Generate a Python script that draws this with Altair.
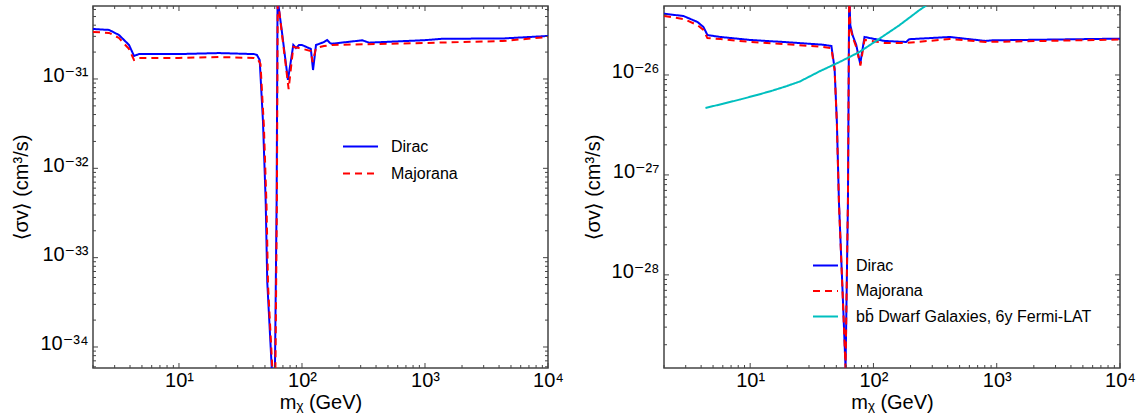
import math
import altair as alt
import pandas as pd

# ---------------- data ----------------
# Left panel
ld_x = [2.0, 2.7, 3.25, 3.92, 4.05, 4.31, 4.73, 10, 21.1, 40.7, 43.0, 45.3, 48.2, 50.7, 52.2, 56.8, 58.5, 60.3,
        62.2, 63.3, 68.7, 76.9, 85.0, 89.3, 94.6, 100, 118, 123, 130, 151, 160, 169, 175, 309, 351, 1000, 1384,
        4270, 10000]
ld_y = [3.63e-31, 3.54e-31, 3.11e-31, 2.41e-31, 2.19e-31, 1.81e-31, 1.90e-31, 1.90e-31, 1.95e-31, 1.90e-31,
        1.86e-31, 1.63e-31, 3.3e-32, 4.2e-33, 5.37e-34, 5.8e-35, 1e-35, 5.8e-35, 4.2e-33, 8e-31, 3.36e-31,
        9.75e-32, 2.40e-31, 2.22e-31, 2.40e-31, 2.40e-31, 2.17e-31, 1.26e-31, 2.40e-31, 2.59e-31, 2.73e-31,
        2.53e-31, 2.48e-31, 2.71e-31, 2.55e-31, 2.72e-31, 2.82e-31, 2.84e-31, 3.03e-31]

lm_x = [2.0, 2.7, 3.25, 3.92, 4.31, 4.73, 10, 21.1, 40.7, 43.5, 46.0, 49.0, 51.5, 53.0, 57.5, 59.0, 60.8, 62.5,
        63.5, 68.7, 77.9, 85.0, 94.6, 118, 122, 130, 151, 175, 1000, 4270, 10000]
lm_y = [3.36e-31, 3.28e-31, 2.88e-31, 2.17e-31, 1.63e-31, 1.72e-31, 1.72e-31, 1.76e-31, 1.72e-31, 1.68e-31,
        1.47e-31, 3.0e-32, 3.8e-33, 4.8e-34, 5.5e-35, 1e-35, 5.5e-35, 4.0e-33, 8e-31, 3.19e-31, 7.72e-32,
        2.28e-31, 2.22e-31, 2.06e-31, 1.55e-31, 2.22e-31, 2.34e-31, 2.40e-31, 2.53e-31, 2.66e-31, 2.95e-31]

# Right panel
rd_x = [2.0, 2.88, 3.74, 4.18, 4.50, 5.73, 10, 18.5, 38.8, 45.6, 48.4, 50.5, 52.5, 56.2, 59.4, 62.1, 63.6,
        64.9, 67.7, 72.5, 78.1, 84.6, 123, 184, 195, 416, 811, 912, 10000]
rd_y = [4.10e-26, 3.89e-26, 3.39e-26, 3.02e-26, 2.51e-26, 2.40e-26, 2.24e-26, 2.14e-26, 2.01e-26, 1.95e-26,
        1.16e-26, 3.39e-27, 5.37e-28, 6.8e-29, 1.17e-29, 5.37e-28, 7e-26, 3.16e-26, 2.51e-26, 2.0e-26,
        1.29e-26, 2.40e-26, 2.19e-26, 2.14e-26, 2.28e-26, 2.40e-26, 2.19e-26, 2.22e-26, 2.31e-26]

rm_x = [2.0, 2.88, 3.74, 4.18, 4.50, 5.73, 10, 18.5, 38.8, 45.6, 48.4, 50.5, 52.5, 56.2, 59.4, 62.1, 63.6,
        64.9, 67.7, 72.5, 78.4, 84.6, 123, 184, 416, 811, 10000]
rm_y = [3.89e-26, 3.63e-26, 3.16e-26, 2.82e-26, 2.34e-26, 2.29e-26, 2.14e-26, 2.04e-26, 1.91e-26, 1.86e-26,
        1.12e-26, 3.3e-27, 5.2e-28, 6.6e-29, 1.17e-29, 5.5e-28, 7e-26, 3.02e-26, 2.40e-26, 1.91e-26,
        1.24e-26, 2.24e-26, 2.09e-26, 2.09e-26, 2.29e-26, 2.14e-26, 2.26e-26]

fermi_x = [4.34, 5.94, 8.30, 11.4, 15.3, 19.9, 25.3, 36.7, 53.2, 77.1, 112, 162, 235, 310]
fermi_y = [4.68e-27, 5.13e-27, 5.69e-27, 6.31e-27, 7.0e-27, 7.76e-27, 8.61e-27, 1.09e-26, 1.35e-26,
           1.70e-26, 2.31e-26, 3.14e-26, 4.44e-26, 5.6e-26]

series_left = ["Dirac", "Majorana"]
series_right = ["Dirac", "Majorana", "b\u0062\u0304 Dwarf Galaxies, 6y Fermi-LAT"]

x_ticks = [10, 100, 1000, 10000]
x_labels = ["10¹", "10²", "10³", "10⁴"]
left_y_ticks = [1e-34, 1e-33, 1e-32, 1e-31]
left_y_labels = ["10⁻³⁴", "10⁻³³", "10⁻³²", "10⁻³¹"]
right_y_ticks = [1e-28, 1e-27, 1e-26]
right_y_labels = ["10⁻²⁸", "10⁻²⁷", "10⁻²⁶"]

x_domain = [2, 10000]
left_y_domain = [5.82e-35, 6.56e-31]
right_y_domain = [1.17e-29, 4.9e-26]

W1, W2, H = 455, 456, 362
FONT = "Liberation Sans, Arial, Helvetica, DejaVu Sans, sans-serif"


def label_expr(vals, labels):
    expr = "''"
    for v, l in zip(vals, labels):
        expr = f"abs(log(datum.value)/LN10 - ({math.log10(v):.3f})) < 0.05 ? '{l}' : ({expr})"
    return expr


def minor_ticks(lo, hi):
    out = []
    for d in range(math.floor(math.log10(lo)) - 1, math.ceil(math.log10(hi)) + 1):
        for k in range(2, 10):
            v = k * 10.0 ** d
            if lo <= v <= hi:
                out.append(v)
    return out


def major_ticks(lo, hi):
    out = []
    for d in range(math.floor(math.log10(lo)) - 1, math.ceil(math.log10(hi)) + 1):
        v = 10.0 ** d
        if lo * 0.999 <= v <= hi * 1.001:
            out.append(v)
    return out


def panel(frames, series, colors, dashes, ydom, yticks, ylabels, width, leg):
    df = pd.concat(frames, ignore_index=True)
    xs = alt.Scale(type="log", domain=x_domain, nice=False)
    ys = alt.Scale(type="log", domain=ydom, nice=False)
    xax = alt.Axis(values=x_ticks, labelExpr=label_expr(x_ticks, x_labels), title="mᵪ (GeV)",
                   ticks=False, domain=False, grid=False, labelFlush=False, labelPadding=2,
                   titlePadding=2)
    yax = alt.Axis(values=yticks, labelExpr=label_expr(yticks, ylabels), title="⟨σv⟩ (cm³/s)",
                   ticks=False, domain=False, grid=False, labelPadding=5, titlePadding=8,
                   labelFlush=False, labelOffset=-3)
    X = alt.X("m:Q", scale=xs, axis=xax)
    Y = alt.Y("sv:Q", scale=ys, axis=yax)
    legend = alt.Legend(orient="none", legendX=leg["x"], legendY=leg["y"], title=None,
                        symbolType="stroke", symbolSize=leg["size"], symbolStrokeWidth=2,
                        labelFont=FONT, labelFontSize=16, labelOffset=leg["offset"],
                        rowPadding=leg["rowpad"], padding=0, labelColor="black", labelLimit=400)
    lines = alt.Chart(df).mark_line(clip=True, strokeWidth=2).encode(
        x=X, y=Y,
        color=alt.Color("series:N", scale=alt.Scale(domain=series, range=colors), legend=legend),
        strokeDash=alt.StrokeDash("series:N", scale=alt.Scale(domain=series, range=dashes), legend=legend),
        detail="series:N",
    )
    xmaj = pd.DataFrame({"m": major_ticks(*x_domain)})
    xmin = pd.DataFrame({"m": minor_ticks(*x_domain)})
    ymaj = pd.DataFrame({"sv": major_ticks(*ydom)})
    ymin = pd.DataFrame({"sv": minor_ticks(*ydom)})
    tick_color = "#444444"
    layers = [lines]
    for d, L in ((xmaj, 5), (xmin, 3)):
        layers.append(alt.Chart(d).mark_rule(color=tick_color, strokeWidth=1).encode(
            x=X, y=alt.value(H), y2=alt.value(H - L)))
        layers.append(alt.Chart(d).mark_rule(color=tick_color, strokeWidth=1).encode(
            x=X, y=alt.value(0), y2=alt.value(L)))
    for d, L in ((ymaj, 5), (ymin, 3)):
        layers.append(alt.Chart(d).mark_rule(color=tick_color, strokeWidth=1).encode(
            y=Y, x=alt.value(0), x2=alt.value(L)))
        layers.append(alt.Chart(d).mark_rule(color=tick_color, strokeWidth=1).encode(
            y=Y, x=alt.value(width), x2=alt.value(width - L)))
    return alt.layer(*layers).properties(width=width, height=H)


left_frames = [
    pd.DataFrame({"m": ld_x, "sv": ld_y, "series": series_left[0]}),
    pd.DataFrame({"m": lm_x, "sv": lm_y, "series": series_left[1]}),
]
right_frames = [
    pd.DataFrame({"m": rd_x, "sv": rd_y, "series": series_right[0]}),
    pd.DataFrame({"m": rm_x, "sv": rm_y, "series": series_right[1]}),
    pd.DataFrame({"m": fermi_x, "sv": fermi_y, "series": series_right[2]}),
]

left = panel(left_frames, series_left, ["#0000ff", "#ff0000"], [[1, 0], [7, 5]],
             left_y_domain, left_y_ticks, left_y_labels, W1,
             {"x": 249, "y": 122, "size": 1225, "offset": 12, "rowpad": -6})
right = panel(right_frames, series_right, ["#0000ff", "#ff0000", "#00bfbf"], [[1, 0], [7, 5], [1, 0]],
              right_y_domain, right_y_ticks, right_y_labels, W2,
              {"x": 148, "y": 246, "size": 625, "offset": 17, "rowpad": 3.5})

chart = alt.hconcat(left, right, spacing=116, bounds="flush").resolve_scale(
    color="independent", strokeDash="independent"
).configure_view(stroke="#444444", strokeWidth=1.5).configure_axis(
    labelFont=FONT, labelFontSize=20, labelColor="black",
    titleFont=FONT, titleFontSize=20, titleFontWeight="normal", titleColor="black",
).properties(padding={"left": 11, "top": 4, "right": 5, "bottom": 5})

chart.save("out.html", embed_options={"renderer": "svg", "actions": False})
